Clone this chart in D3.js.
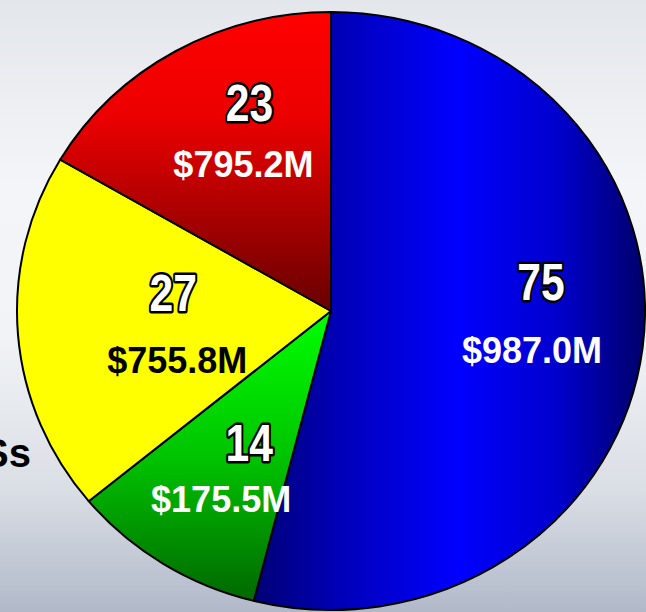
<!DOCTYPE html>
<html>
<head>
<meta charset="utf-8">
<script src="https://cdn.jsdelivr.net/npm/d3@7"></script>
<style>
  html, body { margin: 0; padding: 0; background: #fff; }
  svg { display: block; }
</style>
</head>
<body>
<div id="chart"></div>
<script>
// ---- data ----
const categories = ["Blue", "Green", "Yellow", "Red"];
const counts = [75, 14, 27, 23];
const amounts = ["$987.0M", "$175.5M", "$755.8M", "$795.2M"];
const sideLabel = "Ss";

// ---- layout / style ----
const W = 646, H = 612;
const cx = 331, cy = 311;
const R = 299;            // vertical radius
const sx = 314 / 299;     // horizontal stretch of the pie
const labelFactor = 0.6;
// fine label nudges relative to centroid (px): [count dx, count dy, value dx, value dy]
const nudges = [
  [23, -33, 14, 30],
  [19, -2, -9, 49],
  [30, -14, 34, 48],
  [12, -34, 6, 22]
];
const valueColors = ["#ffffff", "#ffffff", "#000000", "#ffffff"];

const svg = d3.select("#chart").append("svg")
  .attr("width", W).attr("height", H);

const defs = svg.append("defs");

// background gradient
const bg = defs.append("linearGradient").attr("id", "bg")
  .attr("x1", 0).attr("y1", 0).attr("x2", 0).attr("y2", 1);
[[0, "#e3e6eb"], [0.3, "#f4f5f8"], [0.55, "#f1f3f6"], [0.8, "#dadee5"], [1, "#b1b9c9"]]
  .forEach(([o, c]) => bg.append("stop").attr("offset", o).attr("stop-color", c));

svg.append("rect").attr("width", W).attr("height", H).attr("fill", "url(#bg)");

// slice gradients
const grads = [
  { id: "g0", dir: [0, 0, 1, 0], stops: [[0, "#000076"], [0.22, "#0000b8"], [0.52, "#0000ff"], [0.78, "#0000cc"], [1, "#00006a"]] },
  { id: "g1", dir: [0, 0, 0, 1], stops: [[0, "#00ff00"], [0.5, "#00c400"], [1, "#006800"]] },
  { id: "g2", dir: [0, 0, 0, 1], stops: [[0, "#ffff00"], [1, "#ffff00"]] },
  { id: "g3", dir: [0, 0, 0, 1], stops: [[0, "#ff0000"], [0.35, "#ec0000"], [1, "#680000"]] }
];
grads.forEach(g => {
  const lg = defs.append("linearGradient").attr("id", g.id)
    .attr("x1", g.dir[0]).attr("y1", g.dir[1]).attr("x2", g.dir[2]).attr("y2", g.dir[3]);
  g.stops.forEach(([o, c]) => lg.append("stop").attr("offset", o).attr("stop-color", c));
});

// side label (cut off at the left edge, as in the reference)
svg.append("text")
  .attr("x", 31).attr("y", 467)
  .attr("text-anchor", "end")
  .attr("font-family", "Liberation Sans, Arial, sans-serif")
  .attr("font-weight", "bold")
  .attr("font-size", 40)
  .attr("fill", "#000")
  .text(sideLabel);

const pie = d3.pie().sort(null).value(d => d.count);
const data = categories.map((c, i) => ({ cat: c, count: counts[i], amount: amounts[i], i }));
const arcs = pie(data);

const arc = d3.arc().innerRadius(0).outerRadius(R);
const labelArc = d3.arc().innerRadius(R * labelFactor).outerRadius(R * labelFactor);

const g = svg.append("g").attr("transform", `translate(${cx},${cy}) scale(${sx},1)`);
g.selectAll("path").data(arcs).enter().append("path")
  .attr("d", arc)
  .attr("fill", d => `url(#g${d.data.i})`)
  .attr("stroke", "#000")
  .attr("stroke-width", 2)
  .attr("stroke-linejoin", "round")
  .attr("vector-effect", "non-scaling-stroke");

const labels = svg.append("g");
arcs.forEach(d => {
  const [lx, ly] = labelArc.centroid(d);
  const px = cx + lx * sx, py = cy + ly;
  const n = nudges[d.data.i];
  labels.append("text")
    .attr("transform", `translate(${px + n[0]},${py + n[1]}) scale(0.82,1)`)
    .attr("text-anchor", "middle")
    .attr("font-family", "Liberation Sans, Arial, sans-serif")
    .attr("font-weight", "bold")
    .attr("font-size", 52)
    .attr("fill", "#fff")
    .attr("stroke", "#000")
    .attr("stroke-width", 5)
    .attr("stroke-linejoin", "round")
    .attr("paint-order", "stroke")
    .text(d.data.count);
  labels.append("text")
    .attr("x", px + n[2]).attr("y", py + n[3])
    .attr("text-anchor", "middle")
    .attr("font-family", "Liberation Sans, Arial, sans-serif")
    .attr("font-weight", "bold")
    .attr("font-size", 36)
    .attr("fill", valueColors[d.data.i])
    .text(d.data.amount);
});
</script>
</body>
</html>
